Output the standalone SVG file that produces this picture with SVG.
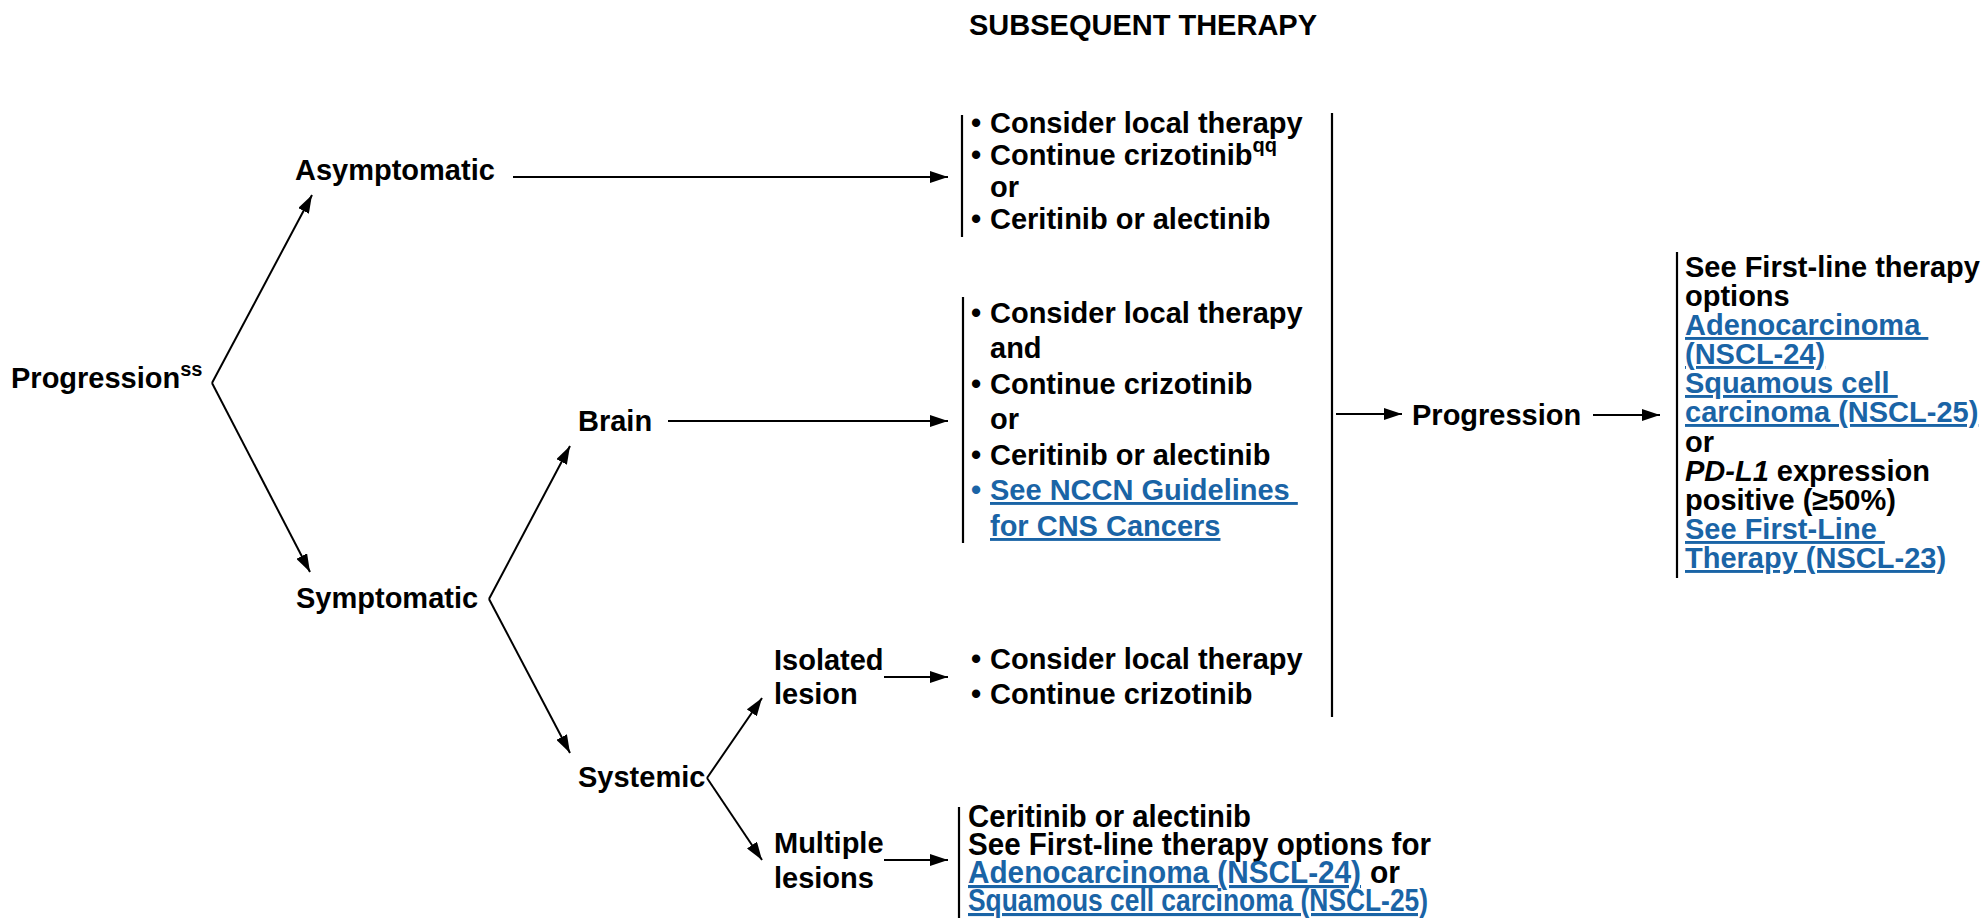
<svg xmlns="http://www.w3.org/2000/svg" width="1986" height="918" viewBox="0 0 1986 918">
<style>
text{font-family:"Liberation Sans",Arial,sans-serif;font-weight:bold;font-size:29px;fill:#000}
.sup{font-size:20px}
.lnk{fill:#1a64a6;text-decoration:underline}
.cond{font-size:31px}
.ln{stroke:#000;stroke-width:2;fill:none}
.bar{stroke:#000;stroke-width:2.2;fill:none}
</style>
<defs>
<marker id="ah" markerUnits="userSpaceOnUse" markerWidth="18" markerHeight="12" refX="18" refY="6" orient="auto">
<path d="M0,0 L18,6 L0,12 z" fill="#000"/>
</marker>
</defs>
<rect width="1986" height="918" fill="#fff"/>
<text id="title" x="1143" y="35" text-anchor="middle">SUBSEQUENT THERAPY</text>

<g id="connectors">
<line class="ln" x1="212" y1="383" x2="312" y2="195" marker-end="url(#ah)"/>
<line class="ln" x1="212" y1="383" x2="310" y2="572" marker-end="url(#ah)"/>
<line class="ln" x1="489" y1="599" x2="570" y2="446" marker-end="url(#ah)"/>
<line class="ln" x1="489" y1="599" x2="570" y2="753" marker-end="url(#ah)"/>
<line class="ln" x1="707" y1="778" x2="762" y2="698" marker-end="url(#ah)"/>
<line class="ln" x1="707" y1="778" x2="762" y2="860" marker-end="url(#ah)"/>
<line class="ln" x1="513" y1="177" x2="948" y2="177" marker-end="url(#ah)"/>
<line class="ln" x1="668" y1="421" x2="948" y2="421" marker-end="url(#ah)"/>
<line class="ln" x1="884" y1="677" x2="948" y2="677" marker-end="url(#ah)"/>
<line class="ln" x1="884" y1="860" x2="948" y2="860" marker-end="url(#ah)"/>
<line class="ln" x1="1336" y1="414" x2="1402" y2="414" marker-end="url(#ah)"/>
<line class="ln" x1="1593" y1="415" x2="1660" y2="415" marker-end="url(#ah)"/>
<line class="bar" x1="962" y1="115" x2="962" y2="237"/>
<line class="bar" x1="963" y1="297" x2="963" y2="543"/>
<line class="bar" x1="959" y1="807" x2="959" y2="918"/>
<line class="bar" x1="1332" y1="113" x2="1332" y2="717"/>
<line class="bar" x1="1677" y1="252" x2="1677" y2="578"/>
</g>

<g id="n-progression"><text x="11" y="388">Progression<tspan class="sup" dy="-12">ss</tspan></text></g>
<g id="n-asymptomatic"><text x="295" y="180">Asymptomatic</text></g>
<g id="n-symptomatic"><text x="296" y="608">Symptomatic</text></g>
<g id="n-brain"><text x="578" y="431">Brain</text></g>
<g id="n-systemic"><text x="578" y="787">Systemic</text></g>
<g id="n-isolated"><text x="774" y="670">Isolated</text><text x="774" y="704">lesion</text></g>
<g id="n-multiple"><text x="774" y="853">Multiple</text><text x="774" y="888">lesions</text></g>

<g id="n-asym-tx">
<text x="971" y="133">•</text><text x="990" y="133">Consider local therapy</text>
<text x="971" y="165">•</text><text x="990" y="165">Continue crizotinib<tspan class="sup" dy="-13">qq</tspan></text>
<text x="990" y="197">or</text>
<text x="971" y="229">•</text><text x="990" y="229">Ceritinib or alectinib</text>
</g>

<g id="n-brain-tx">
<text x="971" y="323">•</text><text x="990" y="323">Consider local therapy</text>
<text x="990" y="358">and</text>
<text x="971" y="394">•</text><text x="990" y="394">Continue crizotinib</text>
<text x="990" y="429">or</text>
<text x="971" y="465">•</text><text x="990" y="465">Ceritinib or alectinib</text>
<text x="971" y="500" class="lnk" style="text-decoration:none">•</text><text x="990" y="500" class="lnk" xml:space="preserve">See NCCN Guidelines </text>
<text x="990" y="536" class="lnk">for CNS Cancers</text>
</g>

<g id="n-isolated-tx">
<text x="971" y="669">•</text><text x="990" y="669">Consider local therapy</text>
<text x="971" y="704">•</text><text x="990" y="704">Continue crizotinib</text>
</g>

<g id="n-multiple-tx">
<text class="cond" x="968" y="827" textLength="283" lengthAdjust="spacingAndGlyphs">Ceritinib or alectinib</text>
<text class="cond" x="968" y="855" textLength="463" lengthAdjust="spacingAndGlyphs">See First-line therapy options for</text>
<text class="cond lnk" x="968" y="883" textLength="393" lengthAdjust="spacingAndGlyphs">Adenocarcinoma (NSCL-24)</text>
<text class="cond" x="1370" y="883" textLength="30" lengthAdjust="spacingAndGlyphs">or</text>
<text class="cond lnk" x="968" y="911" textLength="460" lengthAdjust="spacingAndGlyphs">Squamous cell carcinoma (NSCL-25)</text>
</g>

<g id="n-progression2"><text x="1412" y="425">Progression</text></g>

<g id="n-final-tx">
<text x="1685" y="277">See First-line therapy</text>
<text x="1685" y="306">options</text>
<text x="1685" y="335" class="lnk" xml:space="preserve">Adenocarcinoma </text>
<text x="1685" y="364" class="lnk">(NSCL-24)</text>
<text x="1685" y="393" class="lnk" xml:space="preserve">Squamous cell </text>
<text x="1685" y="422" class="lnk">carcinoma (NSCL-25)</text>
<text x="1685" y="452">or</text>
<text x="1685" y="481"><tspan font-style="italic">PD-L1</tspan> expression</text>
<text x="1685" y="510">positive (≥50%)</text>
<text x="1685" y="539" class="lnk" xml:space="preserve">See First-Line </text>
<text x="1685" y="568" class="lnk">Therapy (NSCL-23)</text>
</g>
</svg>
